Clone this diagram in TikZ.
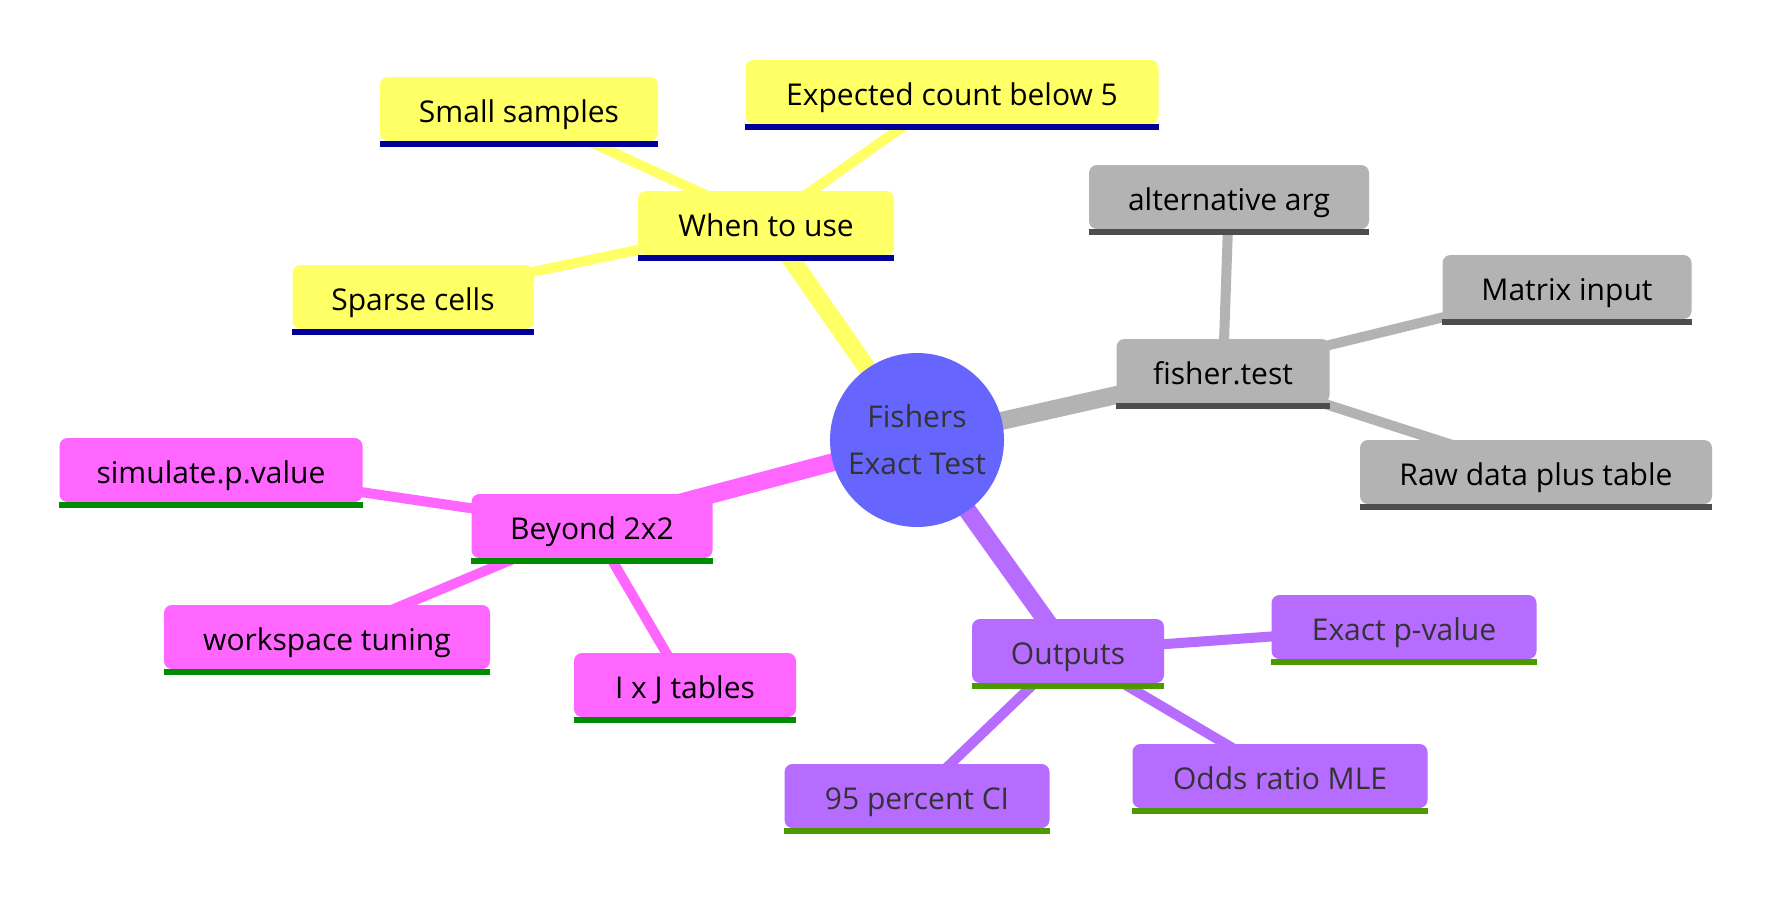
\documentclass[tikz,border=0pt]{standalone}
\usepackage{fontspec}
\setmainfont{Open Sans}
\usetikzlibrary{backgrounds}
\definecolor{white}{RGB}{255,255,255}
\definecolor{canary}{RGB}{255,255,102}
\definecolor{navy}{RGB}{0,0,153}
\definecolor{silver}{RGB}{179,179,179}
\definecolor{slate}{RGB}{77,77,77}
\definecolor{pink}{RGB}{255,102,255}
\definecolor{leaf_green}{RGB}{0,140,0}
\definecolor{lilac}{RGB}{181,108,255}
\definecolor{olive_green}{RGB}{77,153,0}
\definecolor{periwinkle}{RGB}{102,102,255}
\definecolor{ink}{RGB}{51,51,51}

\begin{document}
\begin{tikzpicture}[x=1pt,y=-1pt,
	box/.style={rectangle,rounded corners=8pt,minimum height=64pt,inner sep=0pt,
		text height=30pt,text depth=4pt,font=\fontsize{30}{36}\selectfont},
	yellowbox/.style={box,fill=canary,text=black},
	graybox/.style={box,fill=silver,text=black},
	pinkbox/.style={box,fill=pink,text=black},
	purplebox/.style={box,fill=lilac,text=ink}]
	\useasboundingbox (0,0) rectangle (1788,900);

	\node[circle,fill=periwinkle,text=ink,minimum size=174pt,inner sep=0pt,align=center,
		font=\fontsize{30}{47}\selectfont] (root) at (917,440) {Fishers\\Exact Test};

	\node[yellowbox,minimum width=256pt] (when) at (766,223) {When to use};
	\node[yellowbox,minimum width=278pt] (small) at (519,109) {Small samples};
	\node[yellowbox,minimum width=413pt] (expected) at (952,92) {Expected count below 5};
	\node[yellowbox,minimum width=241pt] (sparse) at (413,297) {Sparse cells};

	\node[graybox,minimum width=213pt] (fisher) at (1223,371) {fisher.test};
	\node[graybox,minimum width=280pt] (altarg) at (1229,197) {alternative arg};
	\node[graybox,minimum width=249pt] (matrix) at (1567,287) {Matrix input};
	\node[graybox,minimum width=352pt] (rawdata) at (1536,472) {Raw data plus table};

	\node[pinkbox,minimum width=241pt] (beyond) at (592,526) {Beyond 2x2};
	\node[pinkbox,minimum width=303pt] (simulate) at (211,470) {simulate.p.value};
	\node[pinkbox,minimum width=326pt] (workspace) at (327,637) {workspace tuning};
	\node[pinkbox,minimum width=222pt] (ixj) at (685,685) {I x J tables};

	\node[purplebox,minimum width=192pt] (outputs) at (1068,651) {Outputs};
	\node[purplebox,minimum width=265pt] (exactp) at (1404,627) {Exact p-value};
	\node[purplebox,minimum width=295pt] (odds) at (1280,776) {Odds ratio MLE};
	\node[purplebox,minimum width=265pt] (ci) at (917,796) {95 percent CI};

	\foreach \n/\c in {when/navy,small/navy,expected/navy,sparse/navy,
		fisher/slate,altarg/slate,matrix/slate,rawdata/slate,
		beyond/leaf_green,simulate/leaf_green,workspace/leaf_green,ixj/leaf_green,
		outputs/olive_green,exactp/olive_green,odds/olive_green,ci/olive_green}
		\draw[\c,line width=6pt] ([yshift=-3pt]\n.south west) -- ([yshift=-3pt]\n.south east);

	\begin{scope}[on background layer]
		\fill[white] (0,0) rectangle (1788,900);
		\foreach \x/\c in {when/canary,fisher/silver,beyond/pink,outputs/lilac}
			\draw[\c,line width=18pt] (root.center) -- (\x.center);
		\foreach \x/\y/\c in {when/small/canary,when/expected/canary,when/sparse/canary,
			fisher/altarg/silver,fisher/matrix/silver,fisher/rawdata/silver,
			beyond/simulate/pink,beyond/workspace/pink,beyond/ixj/pink,
			outputs/exactp/lilac,outputs/odds/lilac,outputs/ci/lilac}
			\draw[\c,line width=10pt] (\x.center) -- (\y.center);
	\end{scope}
\end{tikzpicture}
\end{document}
